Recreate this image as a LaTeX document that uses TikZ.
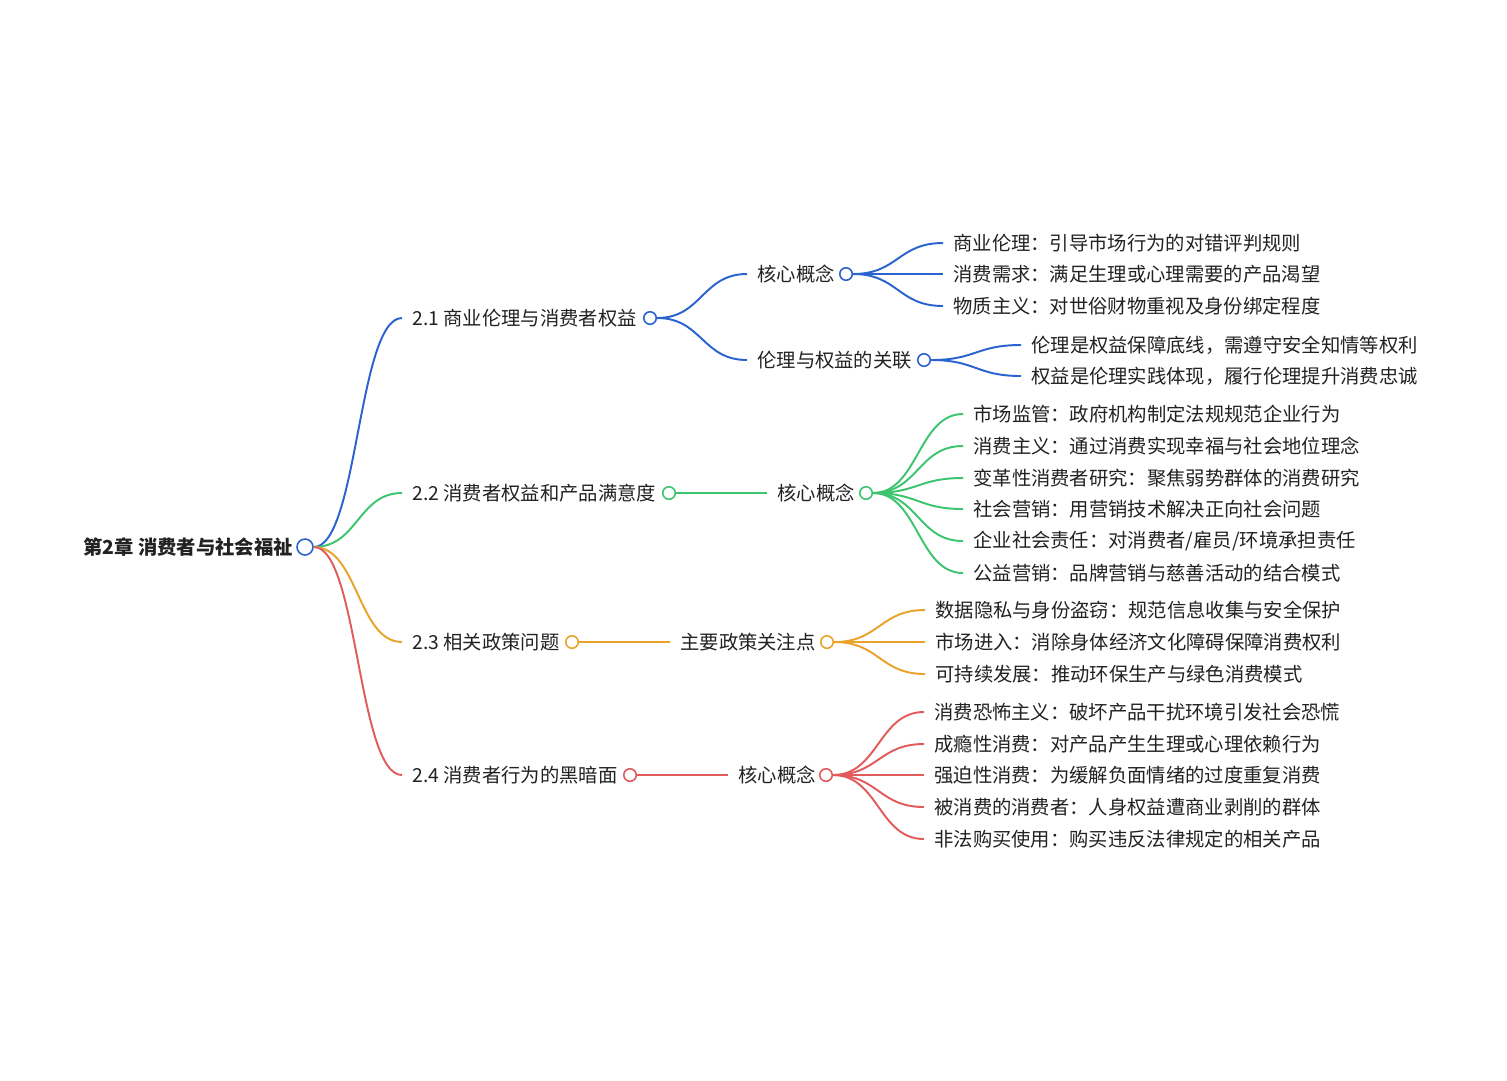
\documentclass[tikz,border=0pt]{standalone}
\usepackage{fontspec}
\setmainfont{Noto Sans CJK SC}
\usetikzlibrary{calc}
\definecolor{mmblue}{HTML}{2A62D0}
\definecolor{mmgreen}{HTML}{3CC46E}
\definecolor{mmorange}{HTML}{EAA32A}
\definecolor{mmred}{HTML}{E25B5B}
\definecolor{mmtext}{HTML}{222222}
\tikzset{
  topic/.style={anchor=west, inner xsep=0.2cm, inner ysep=0pt, text=mmtext,
    font=\fontsize{11}{13}\selectfont},
  knob/.style={circle, draw=#1, fill=white, line width=0.9pt, minimum size=0.25cm, inner sep=0pt},
  edge/.style={draw=#1, line width=1.1pt},
}
% curved branch from a knob to a topic
\newcommand{\mmlink}[3]{\draw[edge=#1] let \p1=(#2), \p2=(#3) in
  (\p1) .. controls ({0.5*\x1+0.5*\x2},\y1) and ({0.5*\x1+0.5*\x2},\y2) .. (\p2);}
\begin{document}
\begin{tikzpicture}[x=0.02cm, y=-0.02cm]
    \useasboundingbox[fill=white] (0,0) rectangle (1507,1080);

    % root
    \node[topic, font=\fontsize{11}{13}\selectfont\bfseries] (root) at (73,547) {第2章 消费者与社会福祉};
    \node[knob=mmblue, minimum size=0.32cm] (rootk) at (305,547) {};

    % first level
    \node[topic] (s21) at (402,318) {2.1 商业伦理与消费者权益};
    \node[knob=mmblue] (k21) at (650,318) {};
    \node[topic] (s22) at (402,493) {2.2 消费者权益和产品满意度};
    \node[knob=mmgreen] (k22) at (669,493) {};
    \node[topic] (s23) at (402,642) {2.3 相关政策问题};
    \node[knob=mmorange] (k23) at (572,642) {};
    \node[topic] (s24) at (402,775) {2.4 消费者行为的黑暗面};
    \node[knob=mmred] (k24) at (630,775) {};

    \mmlink{mmblue}{rootk.east}{s21.west}
    \mmlink{mmgreen}{rootk.east}{s22.west}
    \mmlink{mmorange}{rootk.east}{s23.west}
    \mmlink{mmred}{rootk.east}{s24.west}

    % second level
    \node[topic] (c211) at (747,274) {核心概念};
    \node[knob=mmblue] (k211) at (846,274) {};
    \node[topic] (c212) at (747,360) {伦理与权益的关联};
    \node[knob=mmblue] (k212) at (924,360) {};
    \node[topic] (c221) at (767,493) {核心概念};
    \node[knob=mmgreen] (k221) at (866,493) {};
    \node[topic] (c231) at (670,642) {主要政策关注点};
    \node[knob=mmorange] (k231) at (827,642) {};
    \node[topic] (c241) at (728,775) {核心概念};
    \node[knob=mmred] (k241) at (826,775) {};

    \mmlink{mmblue}{k21.east}{c211.west}
    \mmlink{mmblue}{k21.east}{c212.west}
    \draw[edge=mmgreen] (k22.east) -- (c221.west);
    \draw[edge=mmorange] (k23.east) -- (c231.west);
    \draw[edge=mmred] (k24.east) -- (c241.west);

    % leaves of 2.1
    \node[topic] (l1) at (943,243) {商业伦理：引导市场行为的对错评判规则};
    \node[topic] (l2) at (943,274) {消费需求：满足生理或心理需要的产品渴望};
    \node[topic] (l3) at (943,306) {物质主义：对世俗财物重视及身份绑定程度};
    \node[topic] (l4) at (1021,345) {伦理是权益保障底线，需遵守安全知情等权利};
    \node[topic] (l5) at (1021,376) {权益是伦理实践体现，履行伦理提升消费忠诚};
    \mmlink{mmblue}{k211.east}{l1.west}
    \mmlink{mmblue}{k211.east}{l2.west}
    \mmlink{mmblue}{k211.east}{l3.west}
    \mmlink{mmblue}{k212.east}{l4.west}
    \mmlink{mmblue}{k212.east}{l5.west}

    % leaves of 2.2
    \node[topic] (g1) at (963,414) {市场监管：政府机构制定法规规范企业行为};
    \node[topic] (g2) at (963,446) {消费主义：通过消费实现幸福与社会地位理念};
    \node[topic] (g3) at (963,478) {变革性消费者研究：聚焦弱势群体的消费研究};
    \node[topic] (g4) at (963,509) {社会营销：用营销技术解决正向社会问题};
    \node[topic] (g5) at (963,541) {企业社会责任：对消费者/雇员/环境承担责任};
    \node[topic] (g6) at (963,573) {公益营销：品牌营销与慈善活动的结合模式};
    \mmlink{mmgreen}{k221.east}{g1.west}
    \mmlink{mmgreen}{k221.east}{g2.west}
    \mmlink{mmgreen}{k221.east}{g3.west}
    \mmlink{mmgreen}{k221.east}{g4.west}
    \mmlink{mmgreen}{k221.east}{g5.west}
    \mmlink{mmgreen}{k221.east}{g6.west}

    % leaves of 2.3
    \node[topic] (p1) at (925,610) {数据隐私与身份盗窃：规范信息收集与安全保护};
    \node[topic] (p2) at (925,642) {市场进入：消除身体经济文化障碍保障消费权利};
    \node[topic] (p3) at (925,674) {可持续发展：推动环保生产与绿色消费模式};
    \mmlink{mmorange}{k231.east}{p1.west}
    \mmlink{mmorange}{k231.east}{p2.west}
    \mmlink{mmorange}{k231.east}{p3.west}

    % leaves of 2.4
    \node[topic] (d1) at (924,712) {消费恐怖主义：破坏产品干扰环境引发社会恐慌};
    \node[topic] (d2) at (924,744) {成瘾性消费：对产品产生生理或心理依赖行为};
    \node[topic] (d3) at (924,775) {强迫性消费：为缓解负面情绪的过度重复消费};
    \node[topic] (d4) at (924,807) {被消费的消费者：人身权益遭商业剥削的群体};
    \node[topic] (d5) at (924,839) {非法购买使用：购买违反法律规定的相关产品};
    \mmlink{mmred}{k241.east}{d1.west}
    \mmlink{mmred}{k241.east}{d2.west}
    \mmlink{mmred}{k241.east}{d3.west}
    \mmlink{mmred}{k241.east}{d4.west}
    \mmlink{mmred}{k241.east}{d5.west}
\end{tikzpicture}
\end{document}
